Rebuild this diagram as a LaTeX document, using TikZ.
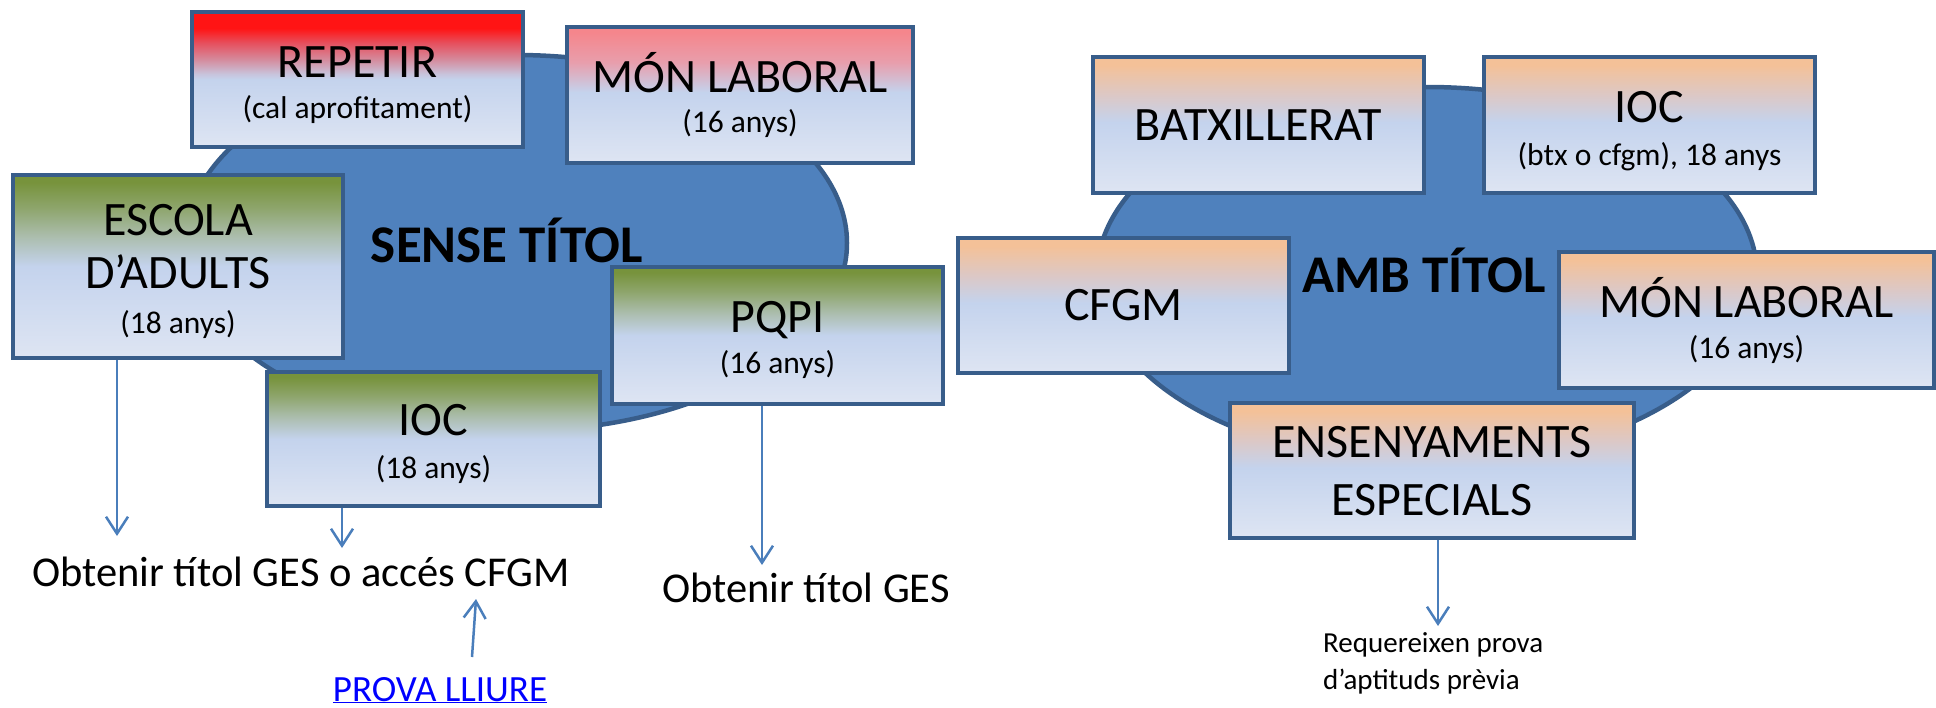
\documentclass[tikz,border=0pt]{standalone}
\usepackage{fontspec}
\setmainfont{Carlito}
\usetikzlibrary{arrows.meta,shapes.geometric}
\definecolor{bordc}{RGB}{56,93,138}
\definecolor{cloudc}{RGB}{79,129,189}
\definecolor{arrc}{RGB}{74,126,187}
\definecolor{lbot}{RGB}{222,229,243}
\definecolor{lmid}{RGB}{196,211,237}
\definecolor{redtop}{RGB}{255,20,20}
\definecolor{reda}{RGB}{230,80,94}
\definecolor{redb}{RGB}{213,138,156}
\definecolor{redc}{RGB}{200,196,220}
\definecolor{pinktop}{RGB}{245,134,140}
\definecolor{pinka}{RGB}{232,158,172}
\definecolor{greentop}{RGB}{119,147,60}
\definecolor{greena}{RGB}{142,165,108}
\definecolor{greenb}{RGB}{172,190,175}
\definecolor{orangetop}{RGB}{244,193,152}
\definecolor{orangea}{RGB}{220,200,198}
\definecolor{linkblue}{RGB}{0,0,255}
\pgfdeclareverticalshading{redsh}{100bp}{color(0bp)=(lbot); color(25bp)=(lbot); color(50bp)=(lmid); color(52bp)=(redc); color(57.5bp)=(redb); color(63.5bp)=(reda); color(69bp)=(redtop); color(100bp)=(redtop)}
\pgfdeclareverticalshading{pinksh}{100bp}{color(0bp)=(lbot); color(25bp)=(lbot); color(51bp)=(lmid); color(62bp)=(pinka); color(73bp)=(pinktop); color(100bp)=(pinktop)}
\pgfdeclareverticalshading{greensh}{100bp}{color(0bp)=(lbot); color(25bp)=(lbot); color(50bp)=(lmid); color(58bp)=(greenb); color(66bp)=(greena); color(73bp)=(greentop); color(100bp)=(greentop)}
\pgfdeclareverticalshading{orangesh}{100bp}{color(0bp)=(lbot); color(25bp)=(lbot); color(51bp)=(lmid); color(61bp)=(orangea); color(72bp)=(orangetop); color(100bp)=(orangetop)}
\tikzset{
  box/.style={rectangle, draw=bordc, line width=4.5pt, inner sep=0pt, shade, shading=#1},
  blob/.style={ellipse, draw=bordc, fill=cloudc, line width=4.5pt, inner sep=0pt},
  ttl/.style={font=\fontsize{48}{52}\selectfont, anchor=base, inner sep=0pt},
  sub/.style={font=\fontsize{31.5}{36}\selectfont, anchor=base, inner sep=0pt},
  big/.style={font=\fontsize{53}{57}\selectfont\bfseries, anchor=base, inner sep=0pt},
  res/.style={font=\fontsize{42.5}{47}\selectfont, anchor=base, inner sep=0pt},
  note/.style={font=\fontsize{29}{34}\selectfont, anchor=base west, inner sep=0pt},
  arr/.style={draw=arrc, line width=2.5pt, -{Straight Barb[length=17pt,width=22pt]}}
}
\begin{document}
\begin{tikzpicture}[x=1pt,y=-1pt]
\useasboundingbox (0,0) rectangle (1936,707);
% clouds
\node[blob, minimum width=662pt, minimum height=376pt] (cloudL) at (516,243) {};
\node[blob, minimum width=660pt, minimum height=376pt] (cloudR) at (1427,275) {};
\node[big] (sense) at (507,262) {SENSE TÍTOL};
\node[big] (amb) at (1424,292) {AMB TÍTOL};
% left boxes
\node[box=redsh, minimum width=331pt, minimum height=135pt] (repetir) at (357.5,79.5) {};
\node[ttl] (repetir-t) at (357.5,77) {REPETIR};
\node[sub] (repetir-s) at (357.5,118) {(cal aprofitament)};
\node[box=pinksh, minimum width=346pt, minimum height=136pt] (monL) at (740,95) {};
\node[ttl] (monL-t) at (740,92) {MÓN LABORAL};
\node[sub] (monL-s) at (740,132) {(16 anys)};
\node[box=greensh, minimum width=330pt, minimum height=183pt] (escola) at (178,266.5) {};
\node[ttl] (escola-t1) at (178,235) {ESCOLA};
\node[ttl] (escola-t2) at (178,288) {D’ADULTS};
\node[sub] (escola-s) at (178,333) {(18 anys)};
\node[box=greensh, minimum width=331pt, minimum height=137pt] (pqpi) at (777.5,335.5) {};
\node[ttl] (pqpi-t) at (777.5,332) {PQPI};
\node[sub] (pqpi-s) at (777.5,373) {(16 anys)};
\node[box=greensh, minimum width=333pt, minimum height=134pt] (iocL) at (433.5,439) {};
\node[ttl] (iocL-t) at (433.5,435) {IOC};
\node[sub] (iocL-s) at (433.5,478) {(18 anys)};
% right boxes
\node[box=orangesh, minimum width=331pt, minimum height=136pt] (batx) at (1258.5,125) {};
\node[ttl] (batx-t) at (1258.5,140) {BATXILLERAT};
\node[box=orangesh, minimum width=331pt, minimum height=136pt] (iocR) at (1649.5,125) {};
\node[ttl] (iocR-t) at (1649.5,122) {IOC};
\node[sub] (iocR-s) at (1649.5,165) {(btx o cfgm), 18 anys};
\node[box=orangesh, minimum width=331pt, minimum height=135pt] (cfgm) at (1123.5,305.5) {};
\node[ttl] (cfgm-t) at (1123.5,320) {CFGM};
\node[box=orangesh, minimum width=375pt, minimum height=136pt] (monR) at (1746.5,320) {};
\node[ttl] (monR-t) at (1746.5,317) {MÓN LABORAL};
\node[sub] (monR-s) at (1746.5,358) {(16 anys)};
\node[box=orangesh, minimum width=404pt, minimum height=135pt] (ens) at (1432,470.5) {};
\node[ttl] (ens-t1) at (1432,457) {ENSENYAMENTS};
\node[ttl] (ens-t2) at (1432,515) {ESPECIALS};
% results
\node[res] (obt1) at (301,586) {Obtenir títol GES o accés CFGM};
\node[res] (obt2) at (806,602) {Obtenir títol GES};
\node[font=\fontsize{37}{42}\selectfont, anchor=base, inner sep=0pt, text=linkblue] (prova) at (440,701) {\underline{PROVA LLIURE}};
\node[note] (req1) at (1323,652) {Requereixen prova};
\node[note] (req2) at (1323,689) {d’aptituds prèvia};
% connectors
\coordinate (e1) at (117,536);
\coordinate (i1) at (342,548);
\coordinate (p1) at (762,565);
\coordinate (pr0) at (472,657);
\coordinate (pr1) at (476,599);
\coordinate (en1) at (1438,626);
\draw[arr] (escola.south -| e1) -- (e1);
\draw[arr] (iocL.south -| i1) -- (i1);
\draw[arr] (pqpi.south -| p1) -- (p1);
\draw[arr] (pr0) -- (pr1);
\draw[arr] (ens.south -| en1) -- (en1);
\end{tikzpicture}
\end{document}
